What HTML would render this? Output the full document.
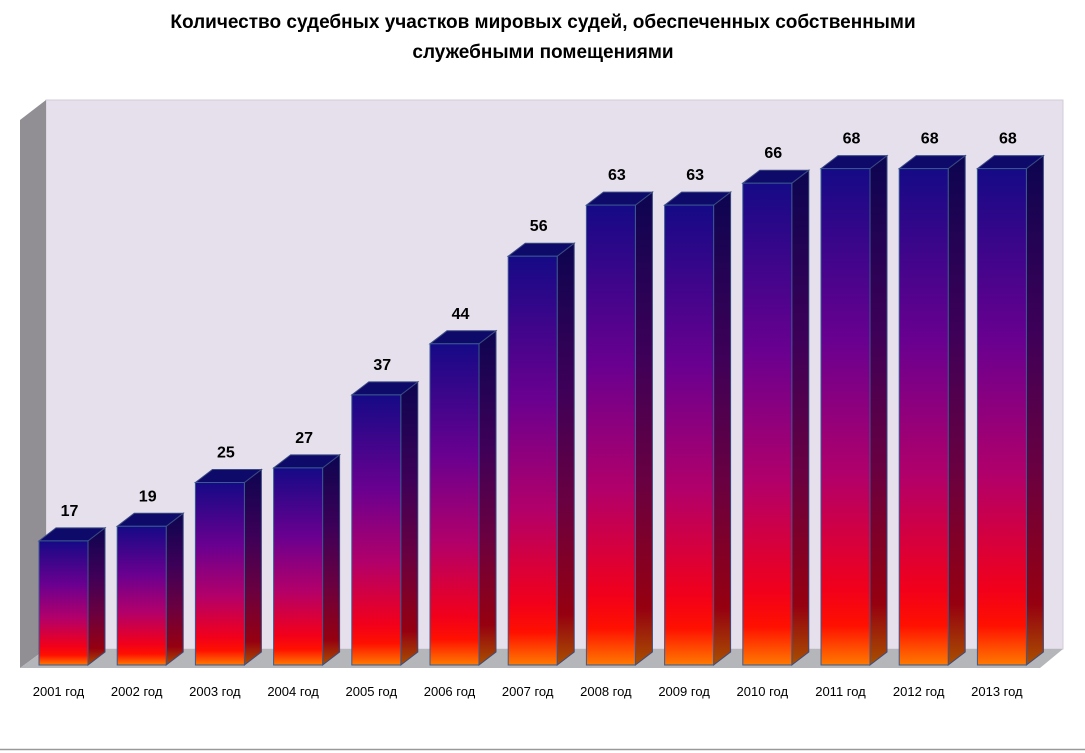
<!DOCTYPE html>
<html><head><meta charset="utf-8"><style>
body{margin:0;background:#fff;width:1085px;height:753px;overflow:hidden}
svg{display:block;font-family:"Liberation Sans","DejaVu Sans",sans-serif}
</style></head><body>
<svg id="chart" width="1085" height="753" viewBox="0 0 1085 753">
<defs>
<linearGradient id="gf" x1="0" y1="0" x2="0" y2="1">
<stop offset="0" stop-color="#150a86"/><stop offset="0.35" stop-color="#6a0090"/><stop offset="0.62" stop-color="#b2006a"/><stop offset="0.85" stop-color="#f2001a"/><stop offset="0.92" stop-color="#ff1000"/><stop offset="1" stop-color="#ff7a00"/>
</linearGradient>
<linearGradient id="gs" x1="0" y1="0" x2="0" y2="1">
<stop offset="0" stop-color="#0c0550"/><stop offset="0.35" stop-color="#3e0058"/><stop offset="0.62" stop-color="#6a0040"/><stop offset="0.88" stop-color="#960010"/><stop offset="1" stop-color="#a85000"/>
</linearGradient>
</defs>
<text x="543" y="28" text-anchor="middle" font-size="19" font-weight="bold">Количество судебных участков мировых судей, обеспеченных собственными</text>
<text x="543" y="58" text-anchor="middle" font-size="19" font-weight="bold">служебными помещениями</text>
<polygon points="46,100 1063,100 1063,649 46,649" fill="#e6e0ec" stroke="#d0ccd6"/>
<polygon points="20,120 46,100 46,649 20,668" fill="#918e94"/>
<polygon points="20,668 46,649 1063,649 1040,668" fill="#b4b6ba"/>
<g id="bars"></g>
<line x1="0" y1="749.5" x2="1085" y2="749.5" stroke="#999" stroke-width="1.5"/>
</svg>
<script>
const categories=["2001 год","2002 год","2003 год","2004 год","2005 год","2006 год","2007 год","2008 год","2009 год","2010 год","2011 год","2012 год","2013 год"];
const values=[17,19,25,27,37,44,56,63,63,66,68,68,68];
const NS="http://www.w3.org/2000/svg";
const g=document.getElementById('bars');
const x0=39,step=78.2,bw=49,dx=17,dy=13,base=665,k=7.3;
function xs(i){return x0+i*step;}
function ys(v){return base-v*k;}
function mk(t,a){const e=document.createElementNS(NS,t);for(const n in a)e.setAttribute(n,a[n]);g.appendChild(e);return e;}
categories.forEach((c,i)=>{
 const x=xs(i),y=ys(values[i]);
 const side=mk('polygon',{points:`${x+bw},${y} ${x+bw+dx},${y-dy} ${x+bw+dx},${base-dy} ${x+bw},${base}`,fill:'url(#gs)',stroke:'#3a4a80','stroke-width':1});
 
 
 const top=mk('polygon',{points:`${x},${y} ${x+dx},${y-dy} ${x+bw+dx},${y-dy} ${x+bw},${y}`,fill:'#0e0a6a',stroke:'#3a4a80','stroke-width':1});
 
 
 const f=mk('rect',{x:x,y:y,width:bw,height:base-y,fill:'url(#gf)',stroke:'#3a5a90','stroke-width':1});
 
 
 const l=mk('text',{x:x+bw/2+6,y:y-dy-12,'text-anchor':'middle','font-size':16,'font-weight':'bold'});
 l.textContent=values[i];
 
 
 const t=mk('text',{x:x+bw/2-5,y:696,'text-anchor':'middle','font-size':13});
 t.textContent=c;
 
 
});
</script>
</body></html>
